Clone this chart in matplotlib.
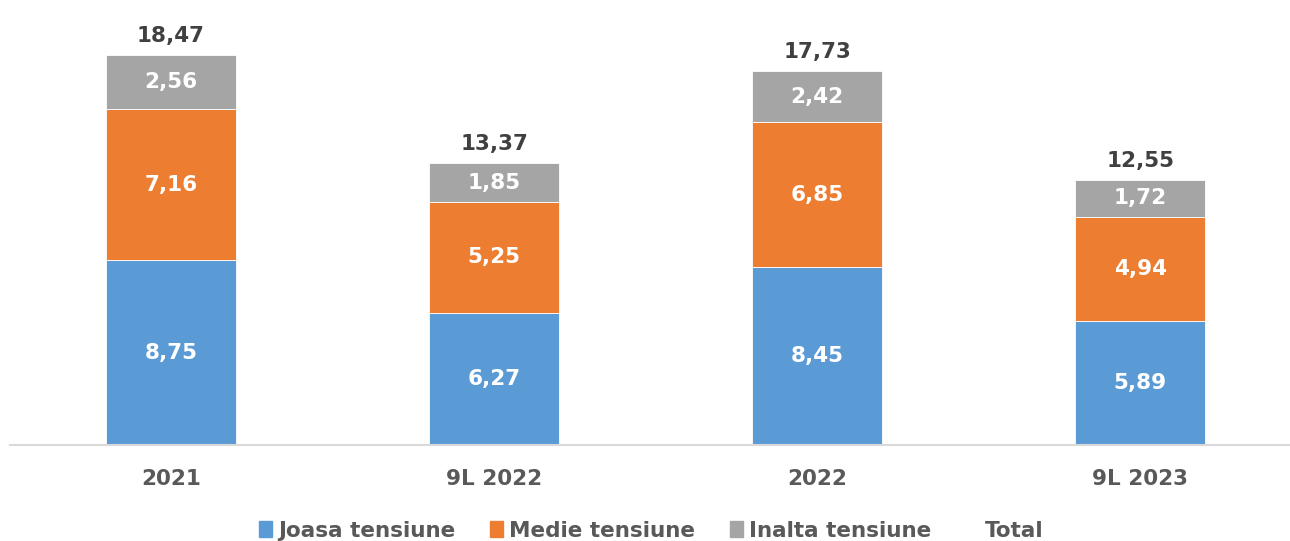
import numpy as np
import matplotlib
matplotlib.use("Agg")
import matplotlib.pyplot as plt
from matplotlib.patches import Patch

plt.rcParams["font.family"] = "sans-serif"
plt.rcParams["font.sans-serif"] = ["DejaVu Sans"]
plt.rcParams["font.weight"] = "bold"

categories = ["2021", "9L 2022", "2022", "9L 2023"]
joasa = [8.75, 6.27, 8.45, 5.89]
medie = [7.16, 5.25, 6.85, 4.94]
inalta = [2.56, 1.85, 2.42, 1.72]
total = [18.47, 13.37, 17.73, 12.55]

series_names = ["Joasa tensiune", "Medie tensiune", "Inalta tensiune"]
colors = ["#5B9BD5", "#ED7D31", "#A5A5A5"]


def fmt(v):
    return f"{v:.2f}".replace(".", ",")


fig = plt.figure(figsize=(12.9, 5.41), dpi=100)
ax = fig.add_axes([0.0074, 0.1775, 1.0016, 0.8225])

x = np.arange(len(categories))
w = 0.402
bottom = np.zeros(len(categories))
for vals, col in zip([joasa, medie, inalta], colors):
    ax.bar(x, vals, w, bottom=bottom, color=col, edgecolor="white", linewidth=0.6)
    for xi, b, v in zip(x, bottom, vals):
        ax.text(xi, b + v / 2, fmt(v), ha="center", va="center",
                color="white", fontsize=15.5, fontweight="bold", family="DejaVu Sans")
    bottom += np.array(vals)

for xi, t in zip(x, total):
    ax.text(xi, t + 0.45, fmt(t), ha="center", va="bottom",
            color="#404040", fontsize=15.5, fontweight="bold", family="DejaVu Sans")

ax.set_xlim(-0.5, 3.5)
ax.set_ylim(0, 21.1)
ax.set_yticks([])
ax.set_xticks(x)
ax.set_xticklabels(categories, fontsize=15.5, fontweight="bold", color="#595959",
                   family="DejaVu Sans")
ax.tick_params(axis="x", length=0, pad=17)
for s in ["top", "right", "left"]:
    ax.spines[s].set_visible(False)
ax.spines["bottom"].set_color("#D9D9D9")
ax.spines["bottom"].set_linewidth(1.5)

handles = [Patch(color=c) for c in colors] + [Patch(color="none")]
fig.legend(handles, series_names + ["Total"], loc="lower center",
           bbox_to_anchor=(0.505, -0.035), ncol=4, frameon=False,
           prop={"size": 15.5, "weight": "bold", "family": "DejaVu Sans"},
           labelcolor="#595959",
           handlelength=0.6, handleheight=0.8, handletextpad=0.3,
           columnspacing=1.6)

fig.savefig("out.png", dpi=100)
